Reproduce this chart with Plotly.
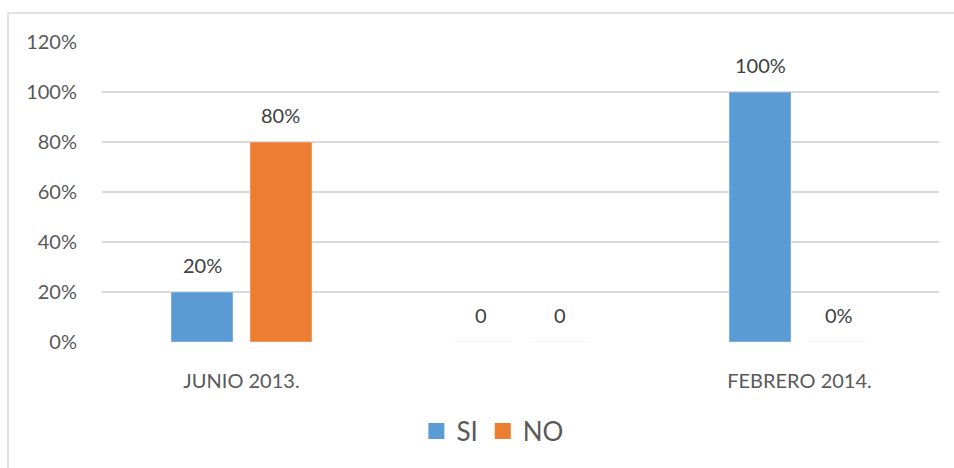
import plotly.graph_objects as go

# Survey results per period
categories = ["JUNIO 2013.", " ", "FEBRERO 2014."]
si_values = [0.20, 0.0, 1.00]
no_values = [0.80, 0.0, 0.00]
si_labels = ["20%", "0", "100%"]
no_labels = ["80%", "0", "0%"]
y_ticks = [0, 0.2, 0.4, 0.6, 0.8, 1.0, 1.2]
y_tick_text = ["0%", "20%", "40%", "60%", "80%", "100%", "120%"]

SI_COLOR = "#5b9bd5"
NO_COLOR = "#ed7d31"
FONT = "Lato"

W, H = 954, 468
margin = dict(l=102, r=15, t=42, b=126)
bargap = 0.434
bargroupgap = 0.215

fig = go.Figure()
fig.add_trace(go.Bar(name="SI", x=categories, y=si_values,
                     marker_color=SI_COLOR, showlegend=False))
fig.add_trace(go.Bar(name="NO", x=categories, y=no_values,
                     marker_color=NO_COLOR, showlegend=False))

# legend entries with larger square swatches
for name, color in [("SI", SI_COLOR), ("NO", NO_COLOR)]:
    fig.add_trace(go.Scatter(name=name, x=[None], y=[None], mode="markers",
                             marker=dict(symbol="square", size=18, color=color)))

# value labels above each bar of a group
plot_w = W - margin["l"] - margin["r"]
slot = plot_w / len(categories)
half_offset = slot * (1 - bargap) / 4
for labels, values, sign in [(si_labels, si_values, -1), (no_labels, no_values, 1)]:
    for cat, val, lab in zip(categories, values, labels):
        fig.add_annotation(x=cat, y=val, text=lab, showarrow=False,
                           xref="x", yref="y", yanchor="bottom",
                           xshift=sign * half_offset, yshift=13,
                           font=dict(family=FONT, size=20, color="#404040"))

# light outer frame of the chart
x0 = (8 - margin["l"]) / plot_w
plot_h = H - margin["t"] - margin["b"]
y1 = (H - margin["b"] - 13) / plot_h
fig.add_shape(type="rect", xref="paper", yref="paper",
              x0=x0, x1=1.2, y0=-1.0, y1=y1,
              line=dict(color="#d9d9d9", width=1.5), layer="below")

fig.update_layout(
    width=W, height=H, margin=margin,
    paper_bgcolor="white", plot_bgcolor="white",
    barmode="group", bargap=bargap, bargroupgap=bargroupgap,
    font=dict(family=FONT, color="#595959"),
    legend=dict(orientation="h", xanchor="center", yanchor="middle",
                x=0.467, y=-0.297, font=dict(family=FONT, size=26, color="#595959"),
                itemsizing="trace"),
    xaxis=dict(showgrid=False, zeroline=False, showline=False,
               ticks="outside", ticklen=21, tickcolor="rgba(0,0,0,0)",
               tickfont=dict(family=FONT, size=20, color="#595959")),
    yaxis=dict(range=[0, 1.2], tickvals=y_ticks, ticktext=y_tick_text,
               showgrid=True, gridcolor="#d9d9d9", gridwidth=1.5,
               zeroline=False, showline=False,
               ticks="outside", ticklen=20, tickcolor="rgba(0,0,0,0)",
               tickfont=dict(family=FONT, size=20, color="#595959")),
)

fig.write_html("out.html")
